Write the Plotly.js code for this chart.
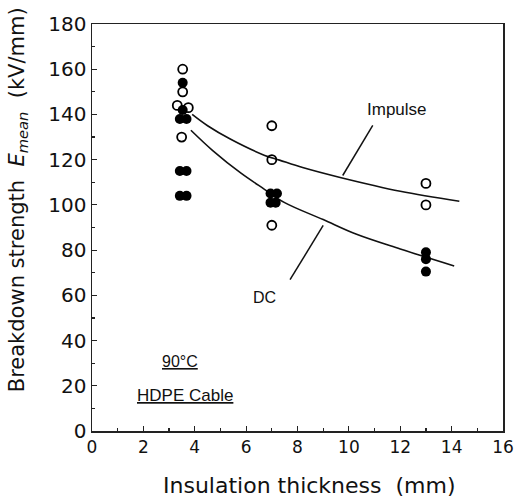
<!DOCTYPE html>
<html>
<head>
<meta charset="utf-8">
<script src="https://cdn.plot.ly/plotly-3.0.1.min.js"></script>
<style>html,body{margin:0;padding:0;background:#fff;}#chart{width:523px;height:497px;}</style>
</head>
<body>
<div id="chart"></div>
<script>
// Impulse breakdown (open circles)
const impulseX = [3.32, 3.53, 3.53, 3.75, 3.49, 7.0, 7.0, 7.0, 13.0, 13.0];
const impulseY = [144, 160, 150, 143, 130, 135, 120, 91, 109.5, 100];
// DC breakdown (filled circles)
const dcX = [3.53, 3.53, 3.42, 3.68, 3.42, 3.68, 3.42, 3.68, 6.95, 7.2, 6.95, 7.15, 13.0, 13.0, 13.0];
const dcY = [154, 142, 138, 138, 115, 115, 104, 104, 105, 105, 101, 101, 79, 76, 70.5];
// fitted curves
const impulseFitX = [3.9, 4.5, 5.4, 6.7, 7.3, 8.2, 9.7, 12.0, 14.3];
const impulseFitY = [140, 135, 129, 122, 119.8, 116.5, 112, 106, 101.6];
const dcFitX = [3.85, 4.7, 5.8, 6.7, 7.5, 9.0, 10.3, 12.0, 14.1];
const dcFitY = [133, 124, 114, 107, 101, 93.5, 87, 80.5, 73];
const xTicks = [0, 2, 4, 6, 8, 10, 12, 14, 16];
const yTicks = [0, 20, 40, 60, 80, 100, 120, 140, 160, 180];

const font = 'Arial, "Liberation Sans", sans-serif';
const wide = '"DejaVu Sans", Arial, sans-serif';

const traces = [
  {x: impulseFitX, y: impulseFitY, mode: 'lines', line: {color: '#111', width: 1.6, shape: 'spline', smoothing: 1}, hoverinfo: 'skip'},
  {x: dcFitX, y: dcFitY, mode: 'lines', line: {color: '#111', width: 1.6, shape: 'spline', smoothing: 1}, hoverinfo: 'skip'},
  {x: dcX, y: dcY, mode: 'markers', marker: {symbol: 'circle', size: 10, color: '#000', line: {color: '#000', width: 0}}},
  {x: impulseX, y: impulseY, mode: 'markers', marker: {symbol: 'circle-open', size: 9, color: '#000', line: {color: '#000', width: 1.8}}}
];

const layout = {
  width: 523, height: 497,
  margin: {l: 92, r: 20, t: 24, b: 66},
  paper_bgcolor: '#fff', plot_bgcolor: '#fff',
  showlegend: false,
  font: {family: font, color: '#111'},
  xaxis: {
    range: [0, 16], tickvals: xTicks, ticktext: xTicks.map(String),
    showgrid: false, zeroline: false,
    showline: true, mirror: true, linecolor: '#222', linewidth: 1.5,
    ticks: 'inside', ticklen: 5, tickcolor: '#222', tickwidth: 1.2,
    minor: {dtick: 1, ticks: 'inside', ticklen: 3, tickcolor: '#222', showgrid: false},
    tickfont: {size: 17, family: wide, color: '#111'}
  },
  yaxis: {
    range: [0, 180], tickvals: yTicks, ticktext: yTicks.map(String),
    showgrid: false, zeroline: false,
    showline: true, mirror: true, linecolor: '#222', linewidth: 1.5,
    ticks: 'inside', ticklen: 5, tickcolor: '#222', tickwidth: 1.2,
    minor: {dtick: 10, ticks: 'inside', ticklen: 3, tickcolor: '#222', showgrid: false},
    tickfont: {size: 20, family: wide, color: '#111'}
  },
  annotations: [
    {xref: 'paper', yref: 'paper', x: -0.18, y: 0.567, xanchor: 'center', yanchor: 'middle', textangle: -90, showarrow: false,
     text: 'Breakdown strength&nbsp;&nbsp;<i>E</i><sub><i>mean</i></sub>&nbsp;&nbsp;(kV/mm)', font: {size: 21, family: wide, color: '#111'}},
    {xref: 'paper', yref: 'paper', x: 0.53, y: -0.133, xanchor: 'center', yanchor: 'middle', showarrow: false,
     text: 'Insulation thickness&nbsp;&nbsp;(mm)', font: {size: 22, family: wide, color: '#111'}},
    {x: 11.87, y: 142.3, xanchor: 'center', yanchor: 'middle', showarrow: false, text: 'Impulse', font: {size: 17, family: font, color: '#111'}},
    {x: 6.73, y: 59.0, xanchor: 'center', yanchor: 'middle', showarrow: false, text: 'DC', font: {size: 16, family: font, color: '#111'}},
    {x: 3.43, y: 30.6, xanchor: 'center', yanchor: 'middle', showarrow: false, text: '<span style="text-decoration:underline">90°C</span>', font: {size: 16, family: font, color: '#111'}},
    {x: 3.62, y: 15.5, xanchor: 'center', yanchor: 'middle', showarrow: false, text: '<span style="text-decoration:underline">HDPE Cable</span>', font: {size: 17, family: font, color: '#111'}}
  ],
  shapes: [
    {type: 'line', x0: 10.93, y0: 135.2, x1: 9.76, y1: 113.0, line: {color: '#111', width: 1.5}},
    {type: 'line', x0: 9.0, y0: 90.9, x1: 7.71, y1: 66.9, line: {color: '#111', width: 1.5}}
  ]
};

Plotly.newPlot('chart', traces, layout, {displayModeBar: false, staticPlot: true});
</script>
</body>
</html>
